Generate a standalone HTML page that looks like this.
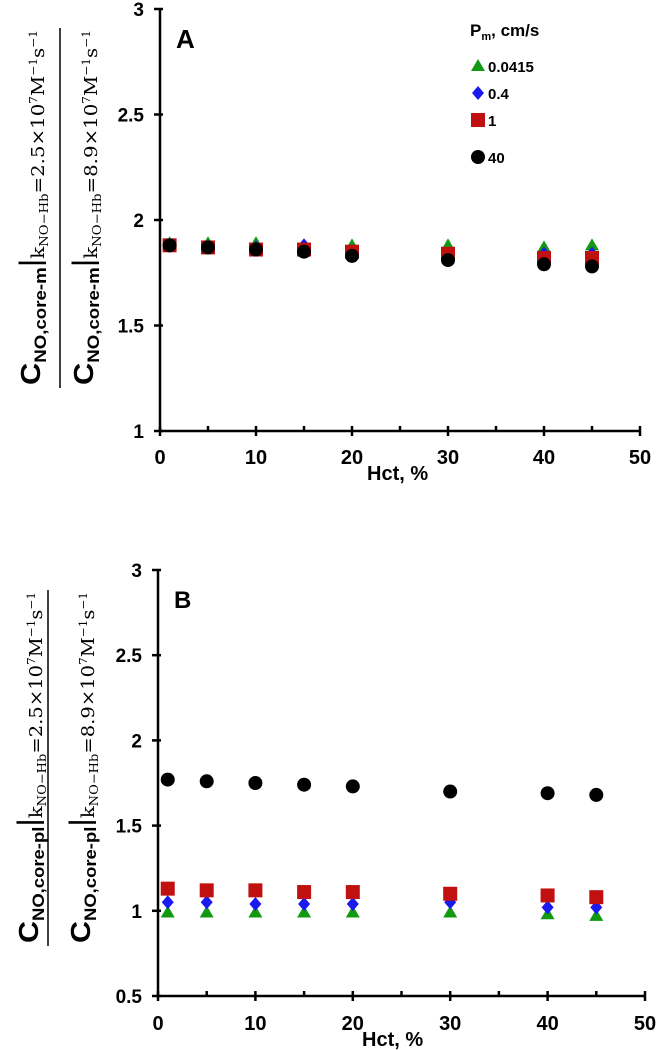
<!DOCTYPE html>
<html><head><meta charset="utf-8"><style>
body{margin:0;background:#fff}
svg{display:block;font-family:"Liberation Sans",sans-serif}
.t{font-weight:bold;font-size:19px}
</style></head><body>
<svg id="c" width="657" height="1050"></svg>
<script>
const hct=[1,5,10,15,20,30,40,45];
const xTicks=[0,10,20,30,40,50];
const xMinor=[5,15,25,35,45];
const aGreen=[1.89,1.89,1.89,1.88,1.88,1.88,1.87,1.88];
const aBlue=[1.88,1.87,1.87,1.88,1.85,1.84,1.84,1.84];
const aRed=[1.88,1.87,1.86,1.86,1.85,1.84,1.82,1.82];
const aBlack=[1.88,1.87,1.86,1.85,1.83,1.81,1.79,1.78];
const bGreen=[0.99,0.99,0.99,0.99,0.99,0.99,0.98,0.97];
const bBlue=[1.05,1.05,1.04,1.04,1.04,1.05,1.02,1.02];
const bRed=[1.13,1.12,1.12,1.11,1.11,1.10,1.09,1.08];
const bBlack=[1.77,1.76,1.75,1.74,1.73,1.70,1.69,1.68];
const aTicks=[1,1.5,2,2.5,3];
const bTicks=[0.5,1,1.5,2,2.5,3];
const legendLabels=["0.0415","0.4","1","40"];
const NS="http://www.w3.org/2000/svg";
const svg=document.getElementById('c');
function el(tag,attrs,parent){const e=document.createElementNS(NS,tag);for(const k in attrs)e.setAttribute(k,attrs[k]);(parent||svg).appendChild(e);return e;}
function marker(type,cx,cy,name){let e;
 if(type==='g'){e=el('polygon',{points:`${cx},${cy-7} ${cx+7},${cy+5} ${cx-7},${cy+5}`,fill:'#119911'});}
 else if(type==='b'){e=el('polygon',{points:`${cx},${cy-7} ${cx+6},${cy} ${cx},${cy+7} ${cx-6},${cy}`,fill:'#1a1aee'});}
 else if(type==='r'){e=el('rect',{x:cx-7,y:cy-7,width:14,height:14,fill:'#c01010'});}
 else {e=el('circle',{cx:cx,cy:cy,r:7,fill:'#000'});}
 
 
 return e;}
function panel(o){
 const {id,X0,X1,ymin,ymax,yTop,yBot,ticks,series,label,labelY,labelSize,xFont,xLabY,titleX,titleY}=o;
 const xs=v=>X0+(v/50)*(X1-X0);
 const ys=v=>yBot-(v-ymin)/(ymax-ymin)*(yBot-yTop);
 const ax=el('line',{x1:X0,y1:ys(ymax)-1,x2:X0,y2:yBot,stroke:'#000','stroke-width':2.5});
 
 const bx=el('line',{x1:X0,y1:yBot,x2:X1,y2:yBot,stroke:'#000','stroke-width':2.5});
 
 ticks.forEach(t=>{const y=ys(t);el('line',{x1:X0-6,y1:y,x2:X0+3,y2:y,stroke:'#000','stroke-width':2.5});
  const tx=el('text',{x:X0-16,y:y+7,'text-anchor':'end',class:'t'});tx.textContent=String(t);
  });
 xTicks.forEach(t=>{const x=xs(t);el('line',{x1:x,y1:yBot-5,x2:x,y2:yBot+5,stroke:'#000','stroke-width':2.5});
  const tx=el('text',{x:x,y:xLabY,'text-anchor':'middle',class:'t',style:`font-size:${xFont}px`});tx.textContent=t;
  });
 xMinor.forEach(t=>{const x=xs(t);el('line',{x1:x,y1:yBot-5,x2:x,y2:yBot,stroke:'#000','stroke-width':2.5});});
 const xt=el('text',{x:titleX,y:titleY,class:'t',style:`font-size:${xFont}px`});xt.textContent='Hct, %';
 
 const pl=el('text',{x:X0+16,y:labelY,style:`font-weight:bold;font-size:${labelSize}px`});pl.textContent=label;
 
 series.forEach(([type,vals,name])=>vals.forEach((v,i)=>marker(type,xs(hct[i]),ys(v),id+'-'+name+'-point')));
}
panel({id:'a',X0:160,X1:640,ymin:1,ymax:3,yTop:9,yBot:431,ticks:aTicks,series:[['g',aGreen,'green'],['b',aBlue,'blue'],['r',aRed,'red'],['k',aBlack,'black']],label:'A',labelY:48,labelSize:26,xFont:20,xLabY:464,titleX:367,titleY:480});
panel({id:'b',X0:158,X1:645,ymin:0.5,ymax:3,yTop:570,yBot:996,ticks:bTicks,series:[['g',bGreen,'green'],['b',bBlue,'blue'],['r',bRed,'red'],['k',bBlack,'black']],label:'B',labelY:608,labelSize:24,xFont:20,xLabY:1030,titleX:362,titleY:1046});
const lt=el('text',{x:470,y:36,class:'t',style:'font-size:17px'});lt.innerHTML='P<tspan font-size="11" dy="4">m</tspan><tspan dy="-4">, cm/s</tspan>';

const ly=[66,93,120,157];const lty=['g','b','r','k'];
legendLabels.forEach((s,i)=>{marker(lty[i],478,ly[i],'legend-marker');
 const t=el('text',{x:488,y:ly[i]+6,class:'t',style:'font-size:15px'});t.textContent=s;
 });
function frac(sub,val){
 const f='font-weight="normal" font-family="DejaVu Serif"';
 return `C<tspan font-size="17" dy="6">NO,core-${sub}</tspan><tspan font-weight="normal" font-size="30" dy="-6">|</tspan><tspan ${f} font-size="18" dy="4">k</tspan><tspan ${f} font-size="12" dy="4">NO−Hb</tspan><tspan ${f} font-size="18" dy="-4">=${val}×10</tspan><tspan ${f} font-size="11" dy="-7">7</tspan><tspan ${f} font-size="18" dy="7">M</tspan><tspan ${f} font-size="11" dy="-7">−1</tspan><tspan ${f} font-size="18" dy="7">s</tspan><tspan ${f} font-size="11" dy="-7">−1</tspan>`;}
function ylabel(id,y0,y1,sub,xn,xl,xd){
 const cy=(y0+y1)/2,len=y1-y0;
 const g=el('g',{});
 const n=el('text',{x:0,y:0,transform:`translate(${xn},${cy}) rotate(-90)`,'text-anchor':'middle',textLength:len,lengthAdjust:'spacingAndGlyphs',style:'font-size:28px;font-weight:bold'},g);
 n.innerHTML=frac(sub,'2.5');
 el('line',{x1:xl,y1:y0-2,x2:xl,y2:y1+3,stroke:'#000','stroke-width':1.5},g);
 const d=el('text',{x:0,y:0,transform:`translate(${xd},${cy}) rotate(-90)`,'text-anchor':'middle',textLength:len,lengthAdjust:'spacingAndGlyphs',style:'font-size:28px;font-weight:bold'},g);
 d.innerHTML=frac(sub,'8.9');
}
ylabel('a',30,385,'m',40,60,93);
ylabel('b',592,943,'pl',38,48,90);
</script>
</body></html>
